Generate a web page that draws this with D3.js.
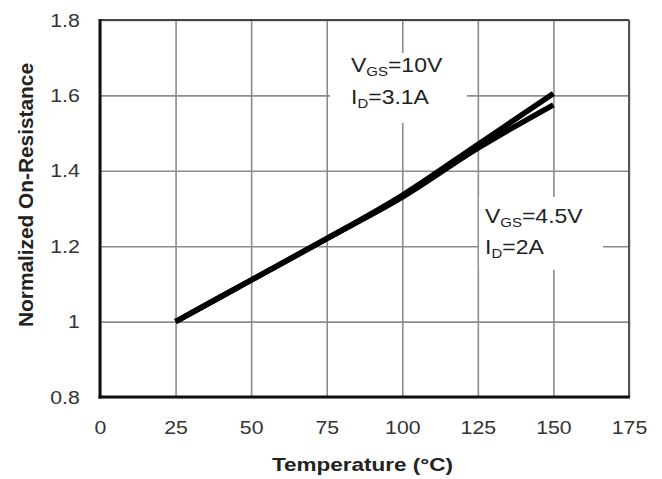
<!DOCTYPE html>
<html>
<head>
<meta charset="utf-8">
<script src="https://cdn.jsdelivr.net/npm/d3@7"></script>
<style>
  body { margin: 0; background: #fff; }
  text { font-family: "Liberation Sans", Arial, sans-serif; }
</style>
</head>
<body>
<script>
// Data
const temps = [25, 50, 75, 100, 125, 150];
const rds10V = [1.0, 1.11, 1.22, 1.335, 1.47, 1.605];   // VGS=10V, ID=3.1A
const rds45V = [1.0, 1.11, 1.22, 1.33, 1.46, 1.575];    // VGS=4.5V, ID=2A
const xTicks = [0, 25, 50, 75, 100, 125, 150, 175];
const yTicks = [0.8, 1.0, 1.2, 1.4, 1.6, 1.8];

const width = 662, height = 479;
const margin = { top: 20, right: 33, bottom: 82, left: 100 };
const stretch = 1.12; // the source picture is a little wider than tall

const svg = d3.select("body").append("svg")
  .attr("width", width)
  .attr("height", height);

const x = d3.scaleLinear().domain([0, 175]).range([margin.left, width - margin.right]);
const y = d3.scaleLinear().domain([0.8, 1.8]).range([height - margin.bottom, margin.top]);

// Grid lines
svg.append("g")
  .attr("transform", `translate(0,${y(0.8)})`)
  .call(d3.axisBottom(x).tickValues(xTicks).tickSize(-(y(0.8) - y(1.8))).tickFormat(""))
  .call(g => g.select(".domain").remove())
  .call(g => g.selectAll("line").attr("stroke", "#8c8c8c").attr("stroke-width", 1.6));

svg.append("g")
  .attr("transform", `translate(${x(0)},0)`)
  .call(d3.axisLeft(y).tickValues(yTicks).tickSize(-(x(175) - x(0))).tickFormat(""))
  .call(g => g.select(".domain").remove())
  .call(g => g.selectAll("line").attr("stroke", "#8c8c8c").attr("stroke-width", 1.6));

// White boxes behind the annotations
svg.append("rect").attr("x", 330).attr("y", 53).attr("width", 137).attr("height", 70).attr("fill", "#fff");
svg.append("rect").attr("x", 479).attr("y", 197).attr("width", 124).attr("height", 73).attr("fill", "#fff");

// Frame
svg.append("line").attr("x1", x(0)).attr("x2", x(175)).attr("y1", y(1.8)).attr("y2", y(1.8))
  .attr("stroke", "#444").attr("stroke-width", 2);
svg.append("line").attr("x1", x(175)).attr("x2", x(175)).attr("y1", y(1.8)).attr("y2", y(0.8))
  .attr("stroke", "#555").attr("stroke-width", 2);
svg.append("line").attr("x1", x(0)).attr("x2", x(0)).attr("y1", y(1.8) - 1).attr("y2", y(0.8) + 1.5)
  .attr("stroke", "#111").attr("stroke-width", 3);
svg.append("line").attr("x1", x(0) - 1.5).attr("x2", x(175) + 1).attr("y1", y(0.8)).attr("y2", y(0.8))
  .attr("stroke", "#111").attr("stroke-width", 3);

// Tick labels
svg.append("g")
  .attr("transform", `translate(0,${y(0.8)})`)
  .call(d3.axisBottom(x).tickValues(xTicks).tickSize(0).tickPadding(24).tickFormat(d3.format("d")))
  .call(g => g.select(".domain").remove())
  .call(g => g.selectAll("text").attr("font-size", 19).attr("fill", "#333")
    .attr("transform", `scale(${stretch},1)`)
    .style("font-family", "'Liberation Sans', Arial, sans-serif"));

svg.append("g")
  .attr("transform", `translate(${x(0)},0)`)
  .call(d3.axisLeft(y).tickValues(yTicks).tickSize(0).tickPadding(18).tickFormat(d => d === 1 ? "1" : d3.format(".1f")(d)))
  .call(g => g.select(".domain").remove())
  .call(g => g.selectAll("text").attr("font-size", 19).attr("fill", "#333")
    .attr("transform", `scale(${stretch},1)`)
    .style("font-family", "'Liberation Sans', Arial, sans-serif"));

// Curves
const line = d3.line()
  .x((d, i) => x(temps[i]))
  .y(d => y(d))
  .curve(d3.curveCatmullRom);

[rds10V, rds45V].forEach(series => {
  svg.append("path")
    .datum(series)
    .attr("d", line)
    .attr("fill", "none")
    .attr("stroke", "#000")
    .attr("stroke-width", 5.5)
    .attr("stroke-linecap", "butt");
});

// Annotations
function label(xPos, yPos, main, sub, rest) {
  const t = svg.append("text")
    .attr("transform", `translate(${xPos},${yPos}) scale(1.15,1)`)
    .attr("font-size", 20).attr("fill", "#222");
  t.append("tspan").text(main);
  t.append("tspan").attr("font-size", 13).attr("dy", 4).text(sub);
  t.append("tspan").attr("dy", -4).text(rest);
}
label(351, 72, "V", "GS", "=10V");
label(351, 104, "I", "D", "=3.1A");
label(485, 223, "V", "GS", "=4.5V");
label(485, 254, "I", "D", "=2A");

// Axis titles
svg.append("text")
  .attr("x", 272)
  .attr("y", 471)
  .attr("textLength", 181)
  .attr("lengthAdjust", "spacingAndGlyphs")
  .attr("font-size", 19)
  .attr("font-weight", "bold")
  .attr("fill", "#222")
  .text("Temperature (°C)");

svg.append("text")
  .attr("transform", `translate(33,327) rotate(-90)`)
  .attr("textLength", 264)
  .attr("lengthAdjust", "spacingAndGlyphs")
  .attr("font-size", 20)
  .attr("font-weight", "bold")
  .attr("fill", "#222")
  .text("Normalized On-Resistance");
</script>
</body>
</html>
